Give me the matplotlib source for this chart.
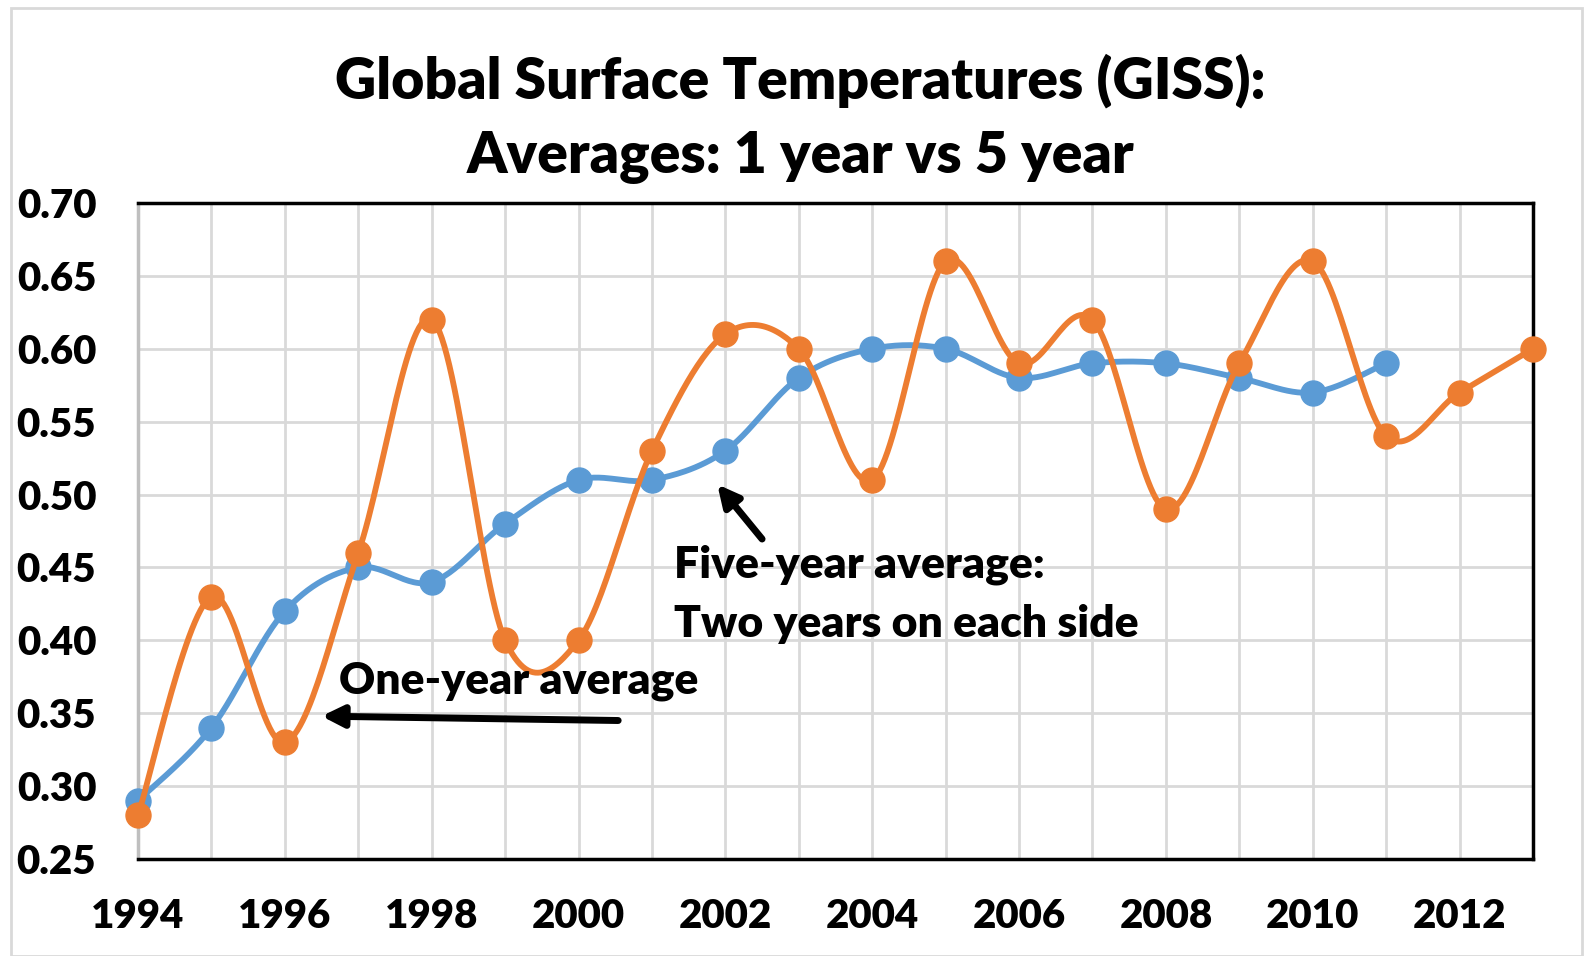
import numpy as np
import matplotlib.pyplot as plt

plt.rcParams['font.family'] = ['Lato', 'DejaVu Sans']
plt.rcParams['font.weight'] = 'heavy'

years_1 = list(range(1994, 2014))
one_year = [0.28, 0.43, 0.33, 0.46, 0.62, 0.40, 0.40, 0.53, 0.61, 0.60,
            0.51, 0.66, 0.59, 0.62, 0.49, 0.59, 0.66, 0.54, 0.57, 0.60]
years_5 = list(range(1994, 2012))
five_year = [0.29, 0.34, 0.42, 0.45, 0.44, 0.48, 0.51, 0.51, 0.53, 0.58,
             0.60, 0.60, 0.58, 0.59, 0.59, 0.58, 0.57, 0.59]

orange = '#ED7D31'
blue = '#5B9BD5'


def smooth(x, y, n=30):
    # Catmull-Rom style smoothing, similar to Excel "smoothed line"
    x = np.asarray(x, float)
    y = np.asarray(y, float)
    px = np.concatenate([[x[0]], x, [x[-1]]])
    py = np.concatenate([[y[0]], y, [y[-1]]])
    xs, ys = [], []
    t = np.linspace(0, 1, n)
    for i in range(1, len(px) - 2):
        p0 = np.array([px[i], py[i]])
        p3 = np.array([px[i + 1], py[i + 1]])
        p1 = p0 + (np.array([px[i + 1], py[i + 1]]) - np.array([px[i - 1], py[i - 1]])) / 6
        p2 = p3 - (np.array([px[i + 2], py[i + 2]]) - np.array([px[i], py[i]])) / 6
        b = ((1 - t) ** 3)[:, None] * p0 + (3 * (1 - t) ** 2 * t)[:, None] * p1 \
            + (3 * (1 - t) * t ** 2)[:, None] * p2 + (t ** 3)[:, None] * p3
        xs.extend(b[:, 0])
        ys.extend(b[:, 1])
    return xs, ys


fig = plt.figure(figsize=(15.93, 9.56), dpi=100)
ax = fig.add_axes([138 / 1593, 1 - 859 / 956, (1533 - 138) / 1593, (859 - 203) / 956])

sx, sy = smooth(years_5, five_year)
ax.plot(sx, sy, color=blue, lw=4.2, zorder=3)
ax.plot(years_5, five_year, 'o', color=blue, ms=18, zorder=3, clip_on=False)
sx, sy = smooth(years_1, one_year)
ax.plot(sx, sy, color=orange, lw=4.2, zorder=4)
ax.plot(years_1, one_year, 'o', color=orange, ms=18, zorder=4, clip_on=False)

ax.set_xlim(1994, 2013)
ax.set_ylim(0.25, 0.70)
ax.set_xticks(range(1994, 2013, 2))
ax.set_xticks(range(1994, 2014), minor=True)
ax.set_yticks(np.arange(0.25, 0.701, 0.05))
ax.set_yticklabels([f'{v:.2f}' for v in np.arange(0.25, 0.701, 0.05)])
ax.grid(True, which='both', color='#d9d9d9', lw=2)
ax.set_axisbelow(True)
ax.tick_params(which='both', length=0, labelsize=29)
ax.tick_params(axis='y', pad=30)
ax.tick_params(axis='x', pad=28)
for s in ['top', 'bottom', 'right']:
    ax.spines[s].set_color('black')
    ax.spines[s].set_linewidth(2.5)
ax.spines['left'].set_color('#bfbfbf')
ax.spines['left'].set_linewidth(2.5)

fig.text(0.5025, 1 - 81 / 956, 'Global Surface Temperatures (GISS):', ha='center', va='center',
         fontsize=41)
fig.text(0.5025, 1 - 157 / 956, 'Averages: 1 year vs 5 year', ha='center', va='center',
         fontsize=41)

arrow = dict(arrowstyle='-|>', color='black', lw=5, mutation_scale=32, shrinkA=0, shrinkB=0)
ax.text(1996.74, 0.372, 'One-year average', fontsize=32, va='center', ha='left', zorder=6)
ax.annotate('', xy=(1996.5, 0.348), xytext=(2000.54, 0.345), arrowprops=arrow, zorder=6)
ax.text(2001.30, 0.452, 'Five-year average:', fontsize=32, va='center', ha='left', zorder=6)
ax.text(2001.30, 0.411, 'Two years on each side', fontsize=32, va='center', ha='left', zorder=6)
ax.annotate('', xy=(2001.89, 0.507), xytext=(2002.50, 0.4695), arrowprops=arrow, zorder=6)

fig.patches.append(plt.Rectangle((11 / 1593, 0), 1 - 22 / 1593, 1 - 8 / 956, transform=fig.transFigure,
                                 fill=False, edgecolor='#d9d9d9', lw=2))

fig.savefig('out.png', dpi=100)
